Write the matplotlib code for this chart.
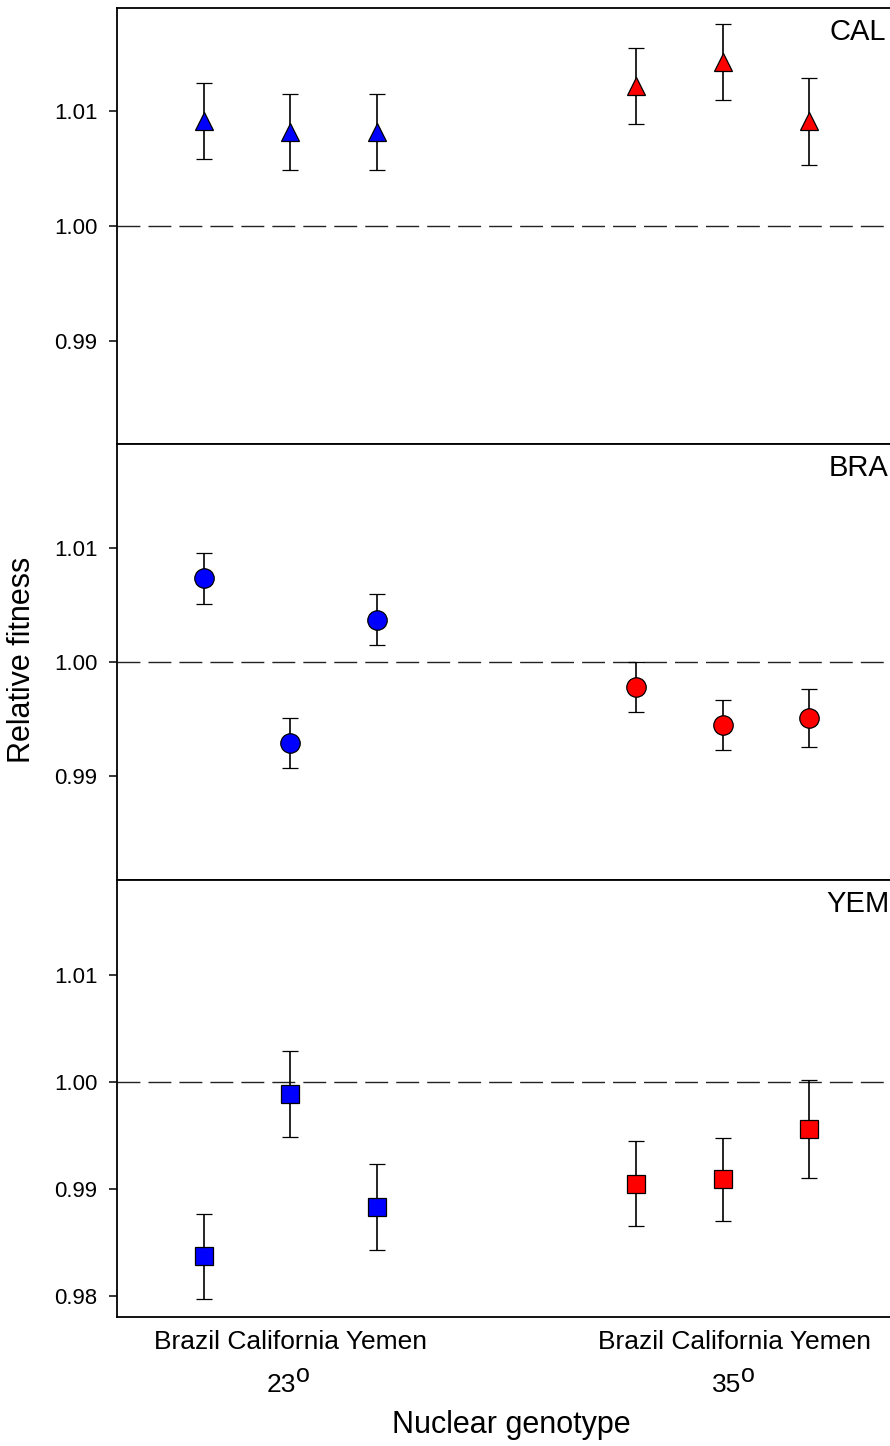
import numpy as np
import matplotlib.pyplot as plt

plt.rcParams['font.family'] = ['Liberation Sans', 'DejaVu Sans']

# x positions: 3 nuclear genotypes at 23 deg, then 3 at 35 deg
xpos = [1, 2, 3, 6, 7, 8]
genotypes = "Brazil California Yemen"
temps = ["23", "35"]

panel_names = ["CAL", "BRA", "YEM"]
markers = ["^", "o", "s"]
msizes = [13.5, 14, 12.5]

cal_mean = [1.0091, 1.0082, 1.0082, 1.0122, 1.0143, 1.0091]
cal_err = [0.0033, 0.0033, 0.0033, 0.0033, 0.0033, 0.0038]
bra_mean = [1.0073, 0.9929, 1.0037, 0.9978, 0.9945, 0.9951]
bra_err = [0.0022, 0.0022, 0.0022, 0.0022, 0.0022, 0.0025]
yem_mean = [0.9837, 0.9989, 0.9883, 0.9905, 0.9909, 0.9956]
yem_err = [0.0040, 0.0040, 0.0040, 0.0040, 0.0039, 0.0046]

means = [cal_mean, bra_mean, yem_mean]
errs = [cal_err, bra_err, yem_err]
ylims = [(0.98104, 1.01896), (0.98096, 1.01904), (0.97804, 1.01888)]
yticks = [[0.99, 1.00, 1.01], [0.99, 1.00, 1.01], [0.98, 0.99, 1.00, 1.01]]
colors = ['#0000ff'] * 3 + ['#ff0000'] * 3

fig = plt.figure(figsize=(8.9, 14.46), dpi=100)
W, H = 890.0, 1446.0
left = 117 / W
width = (895.5 - 117) / W
tops = [8, 444, 880]
bots = [444, 880, 1317]

for i in range(3):
    ax = fig.add_axes([left, 1 - bots[i] / H, width, (bots[i] - tops[i]) / H])
    ax.axhline(1.0, color='#222222', lw=1.0, dashes=(16.5, 5.8), zorder=1)
    for j in range(6):
        ax.errorbar(xpos[j], means[i][j], yerr=errs[i][j], fmt=markers[i],
                    color='black', ecolor='black', elinewidth=1.2,
                    capsize=6, capthick=1.2, markersize=msizes[i],
                    markerfacecolor=colors[j], markeredgecolor='black',
                    markeredgewidth=0.9, zorder=3)
    ax.set_xlim(0, 9)
    ax.set_ylim(*ylims[i])
    ax.set_yticks(yticks[i])
    ax.set_yticklabels(["%.2f" % t for t in yticks[i]])
    ax.set_xticks([])
    ax.tick_params(axis='y', direction='out', length=6, width=1.1,
                   labelsize=16, pad=8)
    for s in ax.spines.values():
        s.set_linewidth(1.3)
    ax.text(1 - (895.5 - 858) / (895.5 - 117), 1 - 24 / 436.0,
            panel_names[i], transform=ax.transAxes, ha='center', va='center',
            fontsize=21)

# x group labels below bottom panel
group_x = [290, 735]
for gx, t in zip(group_x, temps):
    fig.text(gx / W, 1 - 1342 / H, genotypes, ha='center', va='center', fontsize=19)
    fig.text((gx + 6) / W, 1 - 1392 / H, t, ha='right', va='baseline', fontsize=19)
    fig.text((gx + 6) / W, 1 - 1382 / H, "o", ha='left', va='baseline', fontsize=18)
fig.text(511 / W, 1 - 1425 / H, "Nuclear genotype", ha='center', va='center', fontsize=22)
fig.text(22 / W, 1 - 660 / H, "Relative fitness", ha='center', va='center',
         rotation=90, fontsize=22)

fig.savefig("out.png", dpi=100)
